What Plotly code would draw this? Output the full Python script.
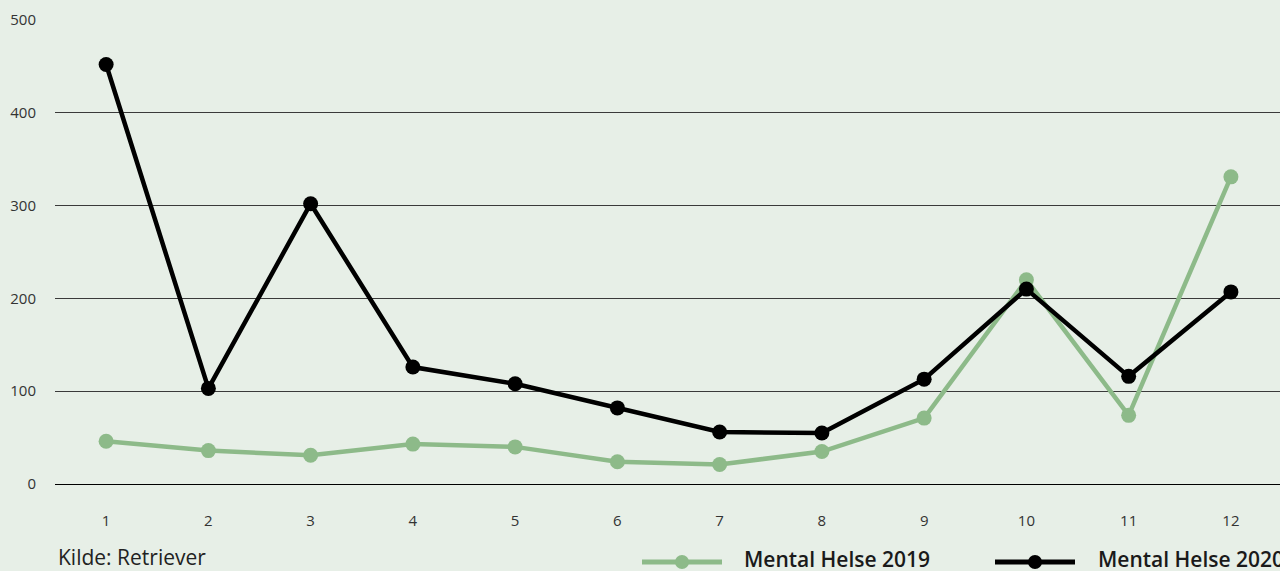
import plotly.graph_objects as go

months = [1, 2, 3, 4, 5, 6, 7, 8, 9, 10, 11, 12]
helse_2019 = [46, 36, 31, 43, 40, 24, 21, 35, 71, 220, 74, 331]
helse_2020 = [452, 103, 302, 126, 108, 82, 56, 55, 113, 210, 116, 207]
y_ticks = [0, 100, 200, 300, 400, 500]

GREEN = "#8dba89"
BLACK = "#000000"
BG = "#e7efe7"
FONT = "Open Sans"

W, H = 1280, 571
L, R, T, B = 55, 0, 20, 87
PW = W - L - R
PH = H - T - B


def px(x):
    return (x - L) / PW


def py(y):
    return (H - B - y) / PH


fig = go.Figure()
fig.add_trace(go.Scatter(
    x=months, y=helse_2019, mode="lines+markers", name="Mental Helse 2019",
    line=dict(color=GREEN, width=4.5), marker=dict(color=GREEN, size=15),
    showlegend=False,
))
fig.add_trace(go.Scatter(
    x=months, y=helse_2020, mode="lines+markers", name="Mental Helse 2020",
    line=dict(color=BLACK, width=4.5), marker=dict(color=BLACK, size=15),
    showlegend=False,
))

shapes = []
annotations = []
legend_items = [
    ("Mental Helse 2019", GREEN, 642, 722, 682, 743),
    ("Mental Helse 2020", BLACK, 995, 1075, 1035, 1097),
]
ly = 562
for label, col, x0, x1, xm, xt in legend_items:
    shapes.append(dict(type="line", xref="paper", yref="paper",
                       x0=px(x0), x1=px(x1), y0=py(ly), y1=py(ly),
                       line=dict(color=col, width=5)))
    shapes.append(dict(type="circle", xref="paper", yref="paper",
                       xsizemode="pixel", ysizemode="pixel",
                       xanchor=px(xm), yanchor=py(ly),
                       x0=-7, x1=7, y0=-7, y1=7,
                       fillcolor=col, line=dict(color=col, width=0)))
    annotations.append(dict(text=label, xref="paper", yref="paper",
                            x=px(xt - 1), y=py(559), xanchor="left", yanchor="middle",
                            showarrow=False,
                            font=dict(family=FONT, size=21, weight=600, color="#1a1a1a")))

annotations.append(dict(text="Kilde: Retriever", xref="paper", yref="paper",
                        x=px(56), y=py(557), xanchor="left", yanchor="middle",
                        showarrow=False,
                        font=dict(family=FONT, size=21, color="#222222")))

fig.update_layout(
    width=W, height=H,
    margin=dict(l=L, r=R, t=T, b=B),
    paper_bgcolor=BG, plot_bgcolor=BG,
    font=dict(family=FONT, size=15, color="#333333"),
    shapes=shapes, annotations=annotations,
    showlegend=False,
)
fig.update_xaxes(
    range=[0.5, 12.48], tickmode="array", tickvals=months,
    ticktext=[str(m) for m in months],
    showgrid=False, zeroline=False, showline=False,
    ticks="", ticklabelstandoff=26,
    tickfont=dict(family=FONT, size=15, color="#333333"),
)
fig.update_yaxes(
    range=[0, 500], tickmode="array", tickvals=y_ticks,
    showgrid=True, gridcolor="#3a3a3a", gridwidth=1,
    zeroline=True, zerolinecolor="#000000", zerolinewidth=1,
    showline=False, ticks="", ticklabelstandoff=18,
    tickfont=dict(family=FONT, size=15, color="#333333"),
)

fig.write_html(
    "out.html",
    config={"displayModeBar": False},
    post_script="document.body.style.margin='0';document.body.style.overflow='hidden';document.body.style.background='" + BG + "';",
)
